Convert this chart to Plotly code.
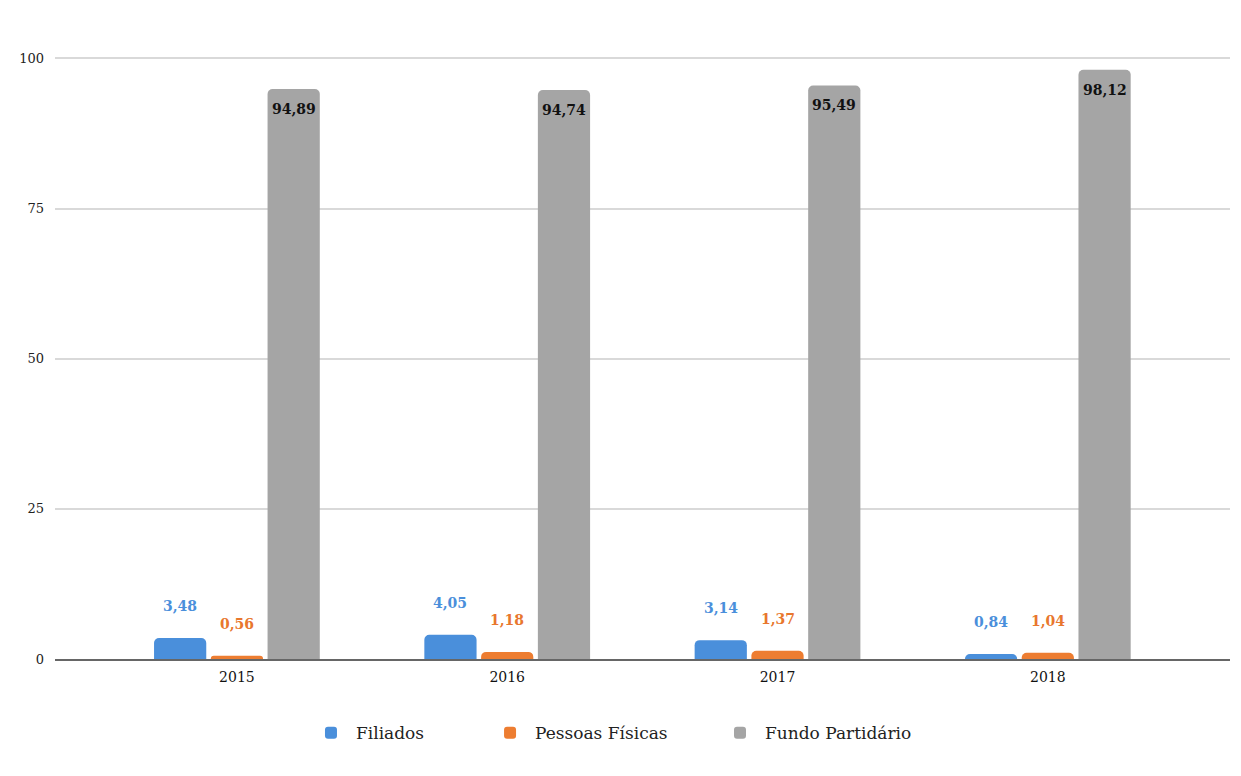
import plotly.graph_objects as go

years = ["2015", "2016", "2017", "2018"]
filiados = [3.48, 4.05, 3.14, 0.84]
pessoas_fisicas = [0.56, 1.18, 1.37, 1.04]
fundo_partidario = [94.89, 94.74, 95.49, 98.12]

series = [
    ("Filiados", filiados, "#4A8FDB", "#4A8FDB", 32),
    ("Pessoas Físicas", pessoas_fisicas, "#ED7D31", "#E8772E", 32),
    ("Fundo Partidário", fundo_partidario, "#A5A5A5", "#111111", -20),
]
legend_ids = ["legend", "legend2", "legend3"]
legend_x = [0.2136, 0.366, 0.5617]

SERIF = "DejaVu Serif"

fig = go.Figure()
for (name, vals, color, _, _), lid in zip(series, legend_ids):
    fig.add_trace(go.Bar(
        name=name, x=years, y=vals, marker_color=color,
        marker_line_width=0, legend=lid,
    ))

# value labels, one per bar, offset within each group
n = len(series)
slot = 0.63 / n
for i, (name, vals, _, tcolor, shift) in enumerate(series):
    offset = (i - (n - 1) / 2) * slot
    for j, v in enumerate(vals):
        fig.add_annotation(
            x=j + offset, y=v, xref="x", yref="y",
            text="<b>" + f"{v:.2f}".replace(".", ",") + "</b>",
            showarrow=False, yshift=shift,
            font=dict(family=SERIF, size=14, color=tcolor),
        )

legend_style = dict(
    orientation="h", xanchor="left", y=-0.123, yanchor="middle",
    font=dict(family=SERIF, size=17, color="#222222"),
    itemwidth=40, bgcolor="rgba(0,0,0,0)",
)

fig.update_layout(
    width=1241, height=776,
    paper_bgcolor="white", plot_bgcolor="white",
    margin=dict(l=55, r=11, t=56, b=117),
    barmode="group", bargap=0.37, bargroupgap=0.08,
    barcornerradius=5,
    font=dict(family=SERIF, color="#222222"),
    showlegend=True,
    **{lid: dict(x=lx, **legend_style) for lid, lx in zip(legend_ids, legend_x)},
)
fig.update_xaxes(
    type="category", range=[-0.673, 3.674],
    showline=True, linecolor="#666666", linewidth=2,
    showgrid=False, ticks="", ticklabelstandoff=4,
    tickfont=dict(family=SERIF, size=14, color="#111111"),
)
fig.update_yaxes(
    range=[0, 100.4], tickvals=[0, 25, 50, 75, 100],
    showgrid=True, gridcolor="#D9D9D9", gridwidth=1.5,
    zeroline=False, showline=False, ticks="",
    ticklabelstandoff=10,
    tickfont=dict(family=SERIF, size=13, color="#222222"),
)

fig.write_html("out.html")
